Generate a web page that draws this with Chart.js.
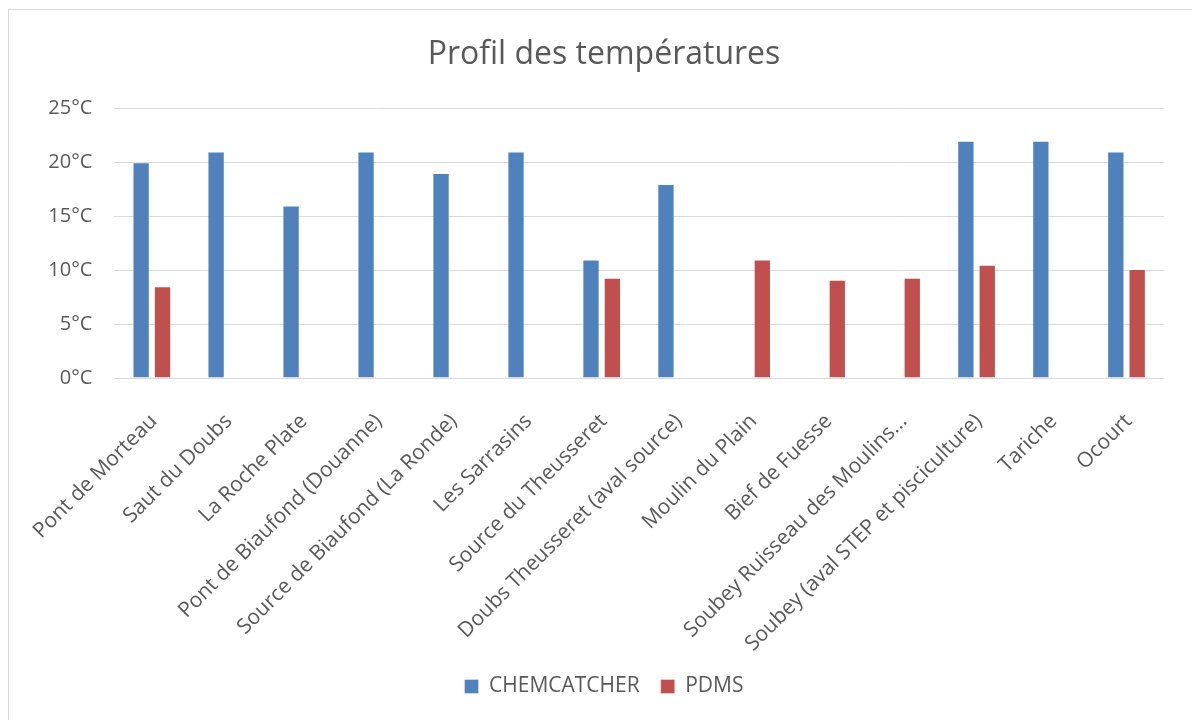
<!DOCTYPE html>
<html>
<head>
<meta charset="utf-8">
<script src="https://cdn.jsdelivr.net/npm/chart.js@4/dist/chart.umd.min.js"></script>
<style>
  html, body { margin: 0; padding: 0; background: #ffffff; }
  #wrap { position: relative; width: 1192px; height: 720px; }
</style>
</head>
<body>
<div id="wrap"><canvas id="c" width="1192" height="720"></canvas></div>
<script>
const categories = [
  "Pont de Morteau",
  "Saut du Doubs",
  "La Roche Plate",
  "Pont de Biaufond (Douanne)",
  "Source de Biaufond (La Ronde)",
  "Les Sarrasins",
  "Source du Theusseret",
  "Doubs Theusseret (aval source)",
  "Moulin du Plain",
  "Bief de Fuesse",
  "Soubey Ruisseau des Moulins...",
  "Soubey (aval STEP et pisciculture)",
  "Tariche",
  "Ocourt"
];
const chemcatcher = [20, 21, 16, 21, 19, 21, 11, 18, null, null, null, 22, 22, 21];
const pdms = [8.5, null, null, null, null, null, 9.3, null, 11.0, 9.1, 9.3, 10.5, null, 10.1];
const yTicks = [0, 5, 10, 15, 20, 25];
const seriesNames = ["CHEMCATCHER", "PDMS"];
const titleText = "Profil des températures";

const FONT = "'Open Sans', 'Noto Sans', sans-serif";
const TEXT = "#595959";

const borderPlugin = {
  id: 'outerBorder',
  beforeDraw(chart) {
    const ctx = chart.ctx;
    ctx.save();
    ctx.fillStyle = '#ffffff';
    ctx.fillRect(0, 0, chart.width, chart.height);
    ctx.strokeStyle = '#d9d9d9';
    ctx.lineWidth = 1;
    ctx.strokeRect(8.5, 9.5, 1300, 900);
    ctx.restore();
  }
};

new Chart(document.getElementById('c'), {
  type: 'bar',
  data: {
    labels: categories,
    datasets: [
      { label: seriesNames[0], data: chemcatcher, backgroundColor: '#4F81BD',
        borderColor: 'rgba(255,255,255,0.35)', borderWidth: 1,
        categoryPercentage: 0.57, barPercentage: 0.81 },
      { label: seriesNames[1], data: pdms, backgroundColor: '#C0504D',
        borderColor: 'rgba(255,255,255,0.35)', borderWidth: 1,
        categoryPercentage: 0.57, barPercentage: 0.81 }
    ]
  },
  options: {
    responsive: false,
    animation: false,
    layout: { padding: { left: 44, right: 28, top: 0, bottom: 13 } },
    plugins: {
      title: {
        display: true, text: titleText, color: TEXT,
        font: { family: FONT, size: 32, weight: 'normal' },
        padding: { top: 36, bottom: 34 }
      },
      legend: {
        position: 'bottom',
        labels: {
          color: TEXT, font: { family: FONT, size: 21 },
          boxWidth: 14, boxHeight: 14, padding: 21
        }
      },
      tooltip: { enabled: false }
    },
    scales: {
      y: {
        min: 0, max: 25,
        afterBuildTicks(scale) { scale.ticks = yTicks.map(v => ({ value: v })); },
        afterFit(scale) { scale.width = 70; },
        ticks: { color: TEXT, font: { family: FONT, size: 20 }, padding: 22,
                 callback: v => v + '°C' },
        grid: { color: '#d9d9d9', lineWidth: 1, drawTicks: false },
        border: { display: false }
      },
      x: {
        afterFit(scale) { scale.height = 277; },
        ticks: { color: TEXT, font: { family: FONT, size: 21 }, padding: 31,
                 labelOffset: 2,
                 maxRotation: 45, minRotation: 45, autoSkip: false },
        grid: { display: false, drawTicks: false },
        border: { display: false }
      }
    }
  },
  plugins: [borderPlugin]
});
</script>
</body>
</html>
